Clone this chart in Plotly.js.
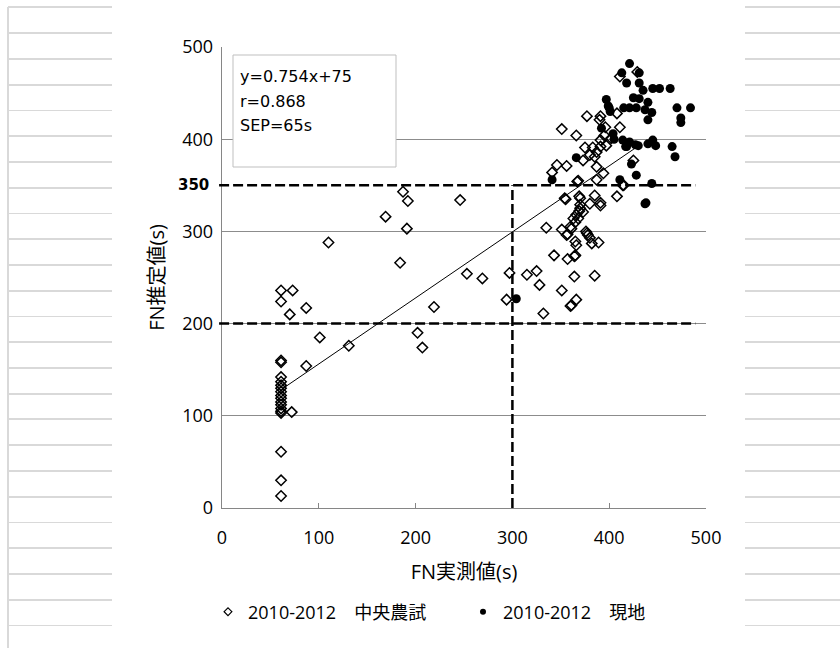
<!DOCTYPE html>
<html><head><meta charset="utf-8">
<script src="https://cdn.plot.ly/plotly-3.0.1.min.js"></script>
<style>
html,body{margin:0;padding:0;background:#fff;}
#wrap{position:relative;width:840px;height:648px;overflow:hidden;background:#fff;}
.sheet{position:absolute;top:0;height:648px;
 background-image:repeating-linear-gradient(to bottom, transparent 0px, transparent 6.5px, #d9d9d9 6.5px, #d9d9d9 8.5px, transparent 8.5px, transparent 25.75px);}
#left{left:8px;width:104px;}
#vline{position:absolute;left:7px;top:7px;width:2px;height:641px;background:#d9d9d9;}
#right{left:745px;width:95px;}
#chart{position:absolute;left:0;top:0;width:840px;height:648px;}
</style></head>
<body><div id="wrap"><div class="sheet" id="left"></div><div id="vline"></div><div class="sheet" id="right"></div><div id="chart"></div></div>
<script>
// 2010-2012 中央農試 (open diamonds)
const centerX = [61,61,61,61,61,61,61,61,61,61,61,61,61,61,61,61,61,61,61,
 73,87,70,101,87,131,72,110,
 187,192,169,191,184,246,253,269,202,207,219,
 297,294,315,325,328,332,335,343,351,351,355,357,357,360,364,364,366,363,366,369,365,360,365,366,369,370,376,378,382,389,380,385,391,385,408,414,367,387,370,354,370,373,368,361,356,377,380,365,361,
 377,391,408,351,366,396,411,375,383,391,397,380,387,385,373,346,356,341,387,394,368,425,415,402,429,411,391,390,391,395];
const centerY = [13,30,61,103,105,108,112,115,119,122,126,130,133,137,142,158,160,224,236,
 236,217,210,185,154,176,104,288,
 343,333,316,303,266,334,254,249,190,174,218,
 255,226,253,257,242,211,304,274,302,236,335,297,270,219,273,251,226,314,318,322,310,305,289,285,338,329,300,296,287,288,330,339,328,252,338,350,354,356,336,336,325,321,314,303,296,298,293,274,220,
 425,425,428,411,404,413,413,391,391,392,393,383,386,381,377,372,371,364,370,363,355,377,350,401,473,468,331,421,399,404];
// 2010-2012 現地 (filled circles)
const fieldX = [304,341,411,437,397,400,421,428,437,440,404,414,421,418,427,440,366,423,428,444,
 421,413,418,431,431,435,445,452,463,425,431,440,399,415,444,470,484,474,474,405,445,417,430,448,465,468,438,392,401];
const fieldY = [227,356,356,330,443,434,434,434,432,421,406,399,397,392,394,395,380,373,361,352,
 482,472,461,472,461,453,455,455,455,445,444,440,436,434,429,434,434,423,418,400,399,392,393,393,392,381,331,412,430];
// trend line
const trendX = [62, 432];
const trendY = [129, 394];
const statLines = ['y=0.754x+75', 'r=0.868', 'SEP=65s'];
const thresholdsY = [200, 350];
const thresholdX = 300;
const axisTicks = [0,100,200,300,400,500];
const seriesNames = ['2010-2012\u3000中央農試', '2010-2012\u3000現地'];

const FONT = '"Open Sans", "Noto Sans CJK JP", sans-serif';
const XR = [0,500], YR = [0,500];

const traces = [
 {x:centerX, y:centerY, type:'scatter', mode:'markers', showlegend:false,
  marker:{symbol:'diamond-open', size:8, color:'#000', line:{width:1.5, color:'#000'}}},
 {x:fieldX, y:fieldY, type:'scatter', mode:'markers', showlegend:false,
  marker:{symbol:'circle', size:9, color:'#000'}},
 {x:trendX, y:trendY, type:'scatter', mode:'lines', showlegend:false, line:{color:'#000', width:1}},
 {x:[null], y:[null], type:'scatter', mode:'markers', name:seriesNames[0],
  marker:{symbol:'diamond-open', size:6, color:'#000', line:{width:1.2, color:'#000'}}},
 {x:[null], y:[null], type:'scatter', mode:'markers', name:seriesNames[1],
  marker:{symbol:'circle', size:6, color:'#000'}}
];

const L=222, T=47, W=484, H=461;
const px2x = p => (p-L)/W;
const px2y = p => (T+H-p)/H;

const shapes = [];
thresholdsY.forEach(v => shapes.push({type:'line', xref:'paper', yref:'y', x0:-0.006, x1:0.978, y0:v, y1:v,
  line:{color:'#000', width:2.5, dash:'10px,4px'}, layer:'above'}));
shapes.push({type:'line', xref:'x', yref:'y', x0:thresholdX, x1:thresholdX, y0:0, y1:thresholdsY[1],
  line:{color:'#000', width:2.5, dash:'10px,4px'}, layer:'above'});
shapes.push({type:'rect', xref:'paper', yref:'paper', x0:px2x(233), x1:px2x(396), y0:px2y(167), y1:px2y(55),
  line:{color:'#bfbfbf', width:1}, fillcolor:'#fff', layer:'above'});

const annotations = statLines.map((t,i) => ({text:t, xref:'paper', yref:'paper', x:px2x(238), y:px2y(77+24*i),
  xanchor:'left', yanchor:'middle', showarrow:false, font:{family:'"DejaVu Sans", sans-serif', size:16, color:'#000'}}));
annotations.push({text:'<b>350</b>', xref:'paper', yref:'y', x:px2x(211), y:thresholdsY[1], xanchor:'right', yanchor:'middle',
  showarrow:false, font:{family:'"DejaVu Sans", sans-serif', size:15, color:'#000'}});

const layout = {
 width:840, height:648, margin:{l:L, r:840-L-W, t:T, b:648-T-H},
 paper_bgcolor:'rgba(0,0,0,0)', plot_bgcolor:'rgba(0,0,0,0)',
 font:{family:FONT, color:'#000'},
 xaxis:{range:XR, tickvals:axisTicks, ticks:'inside', ticklen:5, tickcolor:'#868686', showline:true, linecolor:'#868686', linewidth:1.3,
   showgrid:false, zeroline:false, tickfont:{family:FONT, size:18, color:'#000'}, ticklabelstandoff:13, fixedrange:true,
   title:{text:'FN実測値(s)', font:{family:FONT, size:20, color:'#000'}, standoff:17}},
 yaxis:{range:YR, tickvals:axisTicks, ticks:'', showline:true, linecolor:'#868686', linewidth:1.3, showgrid:true, gridcolor:'#8c8c8c', gridwidth:1,
   zeroline:false, tickfont:{family:FONT, size:18, color:'#000'}, ticklabelstandoff:4, fixedrange:true,
   title:{text:'FN推定値(s)', font:{family:FONT, size:20, color:'#000'}, standoff:12}},
 showlegend:true,
 legend:{orientation:'h', x:px2x(208), xanchor:'left', y:px2y(612), yanchor:'middle', font:{family:FONT, size:18, color:'#000'},
   entrywidth:210, entrywidthmode:'pixels', bgcolor:'rgba(0,0,0,0)'},
 shapes:shapes, annotations:annotations
};
Plotly.newPlot('chart', traces, layout, {displayModeBar:false, staticPlot:true});
</script></body></html>
